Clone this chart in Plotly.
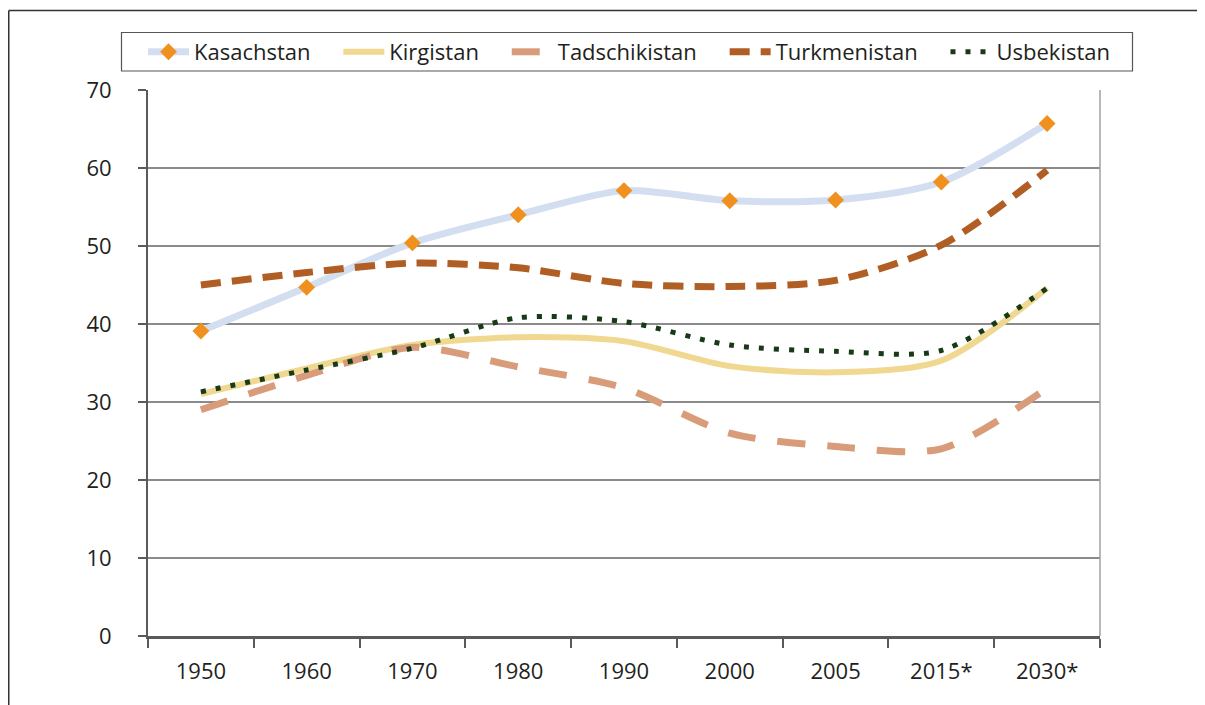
import plotly.graph_objects as go

categories = ["1950", "1960", "1970", "1980", "1990", "2000", "2005", "2015*", "2030*"]
kasachstan = [39.1, 44.7, 50.4, 54.0, 57.1, 55.8, 55.9, 58.2, 65.7]
kirgistan = [31.0, 34.3, 37.3, 38.3, 37.8, 34.6, 33.8, 35.3, 44.6]
tadschikistan = [29.0, 33.4, 37.0, 34.5, 31.8, 26.0, 24.3, 24.0, 31.8]
turkmenistan = [45.0, 46.6, 47.8, 47.2, 45.2, 44.8, 45.6, 50.1, 59.7]
usbekistan = [31.3, 34.1, 36.9, 40.8, 40.3, 37.3, 36.5, 36.6, 44.6]
y_ticks = [0, 10, 20, 30, 40, 50, 60, 70]

FONT = "Open Sans"
TXT = "#231f20"
PAD = "\u00a0" * 4  # spacing after legend entries

fig = go.Figure()
fig.add_trace(go.Scatter(
    x=categories, y=kasachstan, name="Kasachstan" + PAD, mode="lines+markers",
    line=dict(color="#d3dff0", width=7, shape="spline", smoothing=0.8),
    marker=dict(symbol="diamond", size=13, color="#f0901e"),
))
fig.add_trace(go.Scatter(
    x=categories, y=kirgistan, name="Kirgistan" + PAD, mode="lines",
    line=dict(color="#f0d890", width=6, shape="spline", smoothing=0.8),
))
fig.add_trace(go.Scatter(
    x=categories, y=tadschikistan, name="Tadschikistan" + PAD, mode="lines",
    line=dict(color="#d99c7a", width=7, shape="spline", smoothing=0.8, dash="28px,22px"),
))
fig.add_trace(go.Scatter(
    x=categories, y=turkmenistan, name="Turkmenistan" + PAD, mode="lines",
    line=dict(color="#b05e24", width=7, shape="spline", smoothing=0.8, dash="20px,11px"),
))
fig.add_trace(go.Scatter(
    x=categories, y=usbekistan, name="Usbekistan", mode="lines",
    line=dict(color="#173b17", width=5, shape="spline", smoothing=0.8, dash="5px,10px"),
))

# page coordinates of the plot area (page has an 8px body margin)
OFF = 8
FIG_W, FIG_H = 1205 - OFF, 705 - OFF
L, R, T, B = 148, 1100, 90, 636
W = R - L
H = B - T


def px(x):
    return (x - L) / W


def py(y):
    return (B - y) / H


shapes = [
    dict(type="line", xref="paper", yref="paper", x0=1, x1=1, y0=0, y1=1,
         line=dict(color="#a0a0a0", width=1.5)),
    dict(type="line", xref="paper", yref="paper", x0=px(8.75), x1=px(1210), y0=py(10.5), y1=py(10.5),
         line=dict(color="#333333", width=1.5)),
    dict(type="line", xref="paper", yref="paper", x0=px(8.75), x1=px(8.75), y0=py(10.5), y1=py(710),
         line=dict(color="#333333", width=1.5)),
    # legend frame
    dict(type="rect", xref="paper", yref="paper", x0=px(121.5), x1=px(1132.5), y0=py(32.5), y1=py(71),
         line=dict(color="#555555", width=1.2), fillcolor="rgba(0,0,0,0)", layer="above"),
]

fig.update_layout(
    width=FIG_W, height=FIG_H,
    margin=dict(l=L - OFF, r=OFF + FIG_W - R, t=T - OFF, b=OFF + FIG_H - B),
    paper_bgcolor="white", plot_bgcolor="white",
    font=dict(family=FONT, size=22, color=TXT),
    showlegend=True,
    legend=dict(
        orientation="h", x=px(143), xanchor="left", y=py(31), yanchor="top",
        borderwidth=0, bgcolor="rgba(0,0,0,0)",
        font=dict(family=FONT, size=22, color=TXT),
        itemwidth=41, tracegroupgap=0,
    ),
    shapes=shapes,
    xaxis=dict(
        type="category", categoryorder="array", categoryarray=categories,
        range=[-0.5, len(categories) - 0.5],
        showgrid=False, showline=True, linecolor="#5a5a5a", linewidth=2.5,
        ticks="outside", ticklen=9, tickcolor="#5a5a5a", tickwidth=1.5,
        tickson="boundaries", ticklabelstandoff=14,
        tickfont=dict(family=FONT, size=22, color=TXT),
        zeroline=False,
    ),
    yaxis=dict(
        range=[0, 70], tickvals=y_ticks,
        showgrid=True, gridcolor="#8a8a8a", gridwidth=1.5,
        showline=True, linecolor="#5a5a5a", linewidth=2,
        ticks="outside", ticklen=8, tickcolor="#5a5a5a", tickwidth=1.5,
        ticklabelstandoff=22,
        tickfont=dict(family=FONT, size=22, color=TXT),
        zeroline=False,
    ),
)

fig.write_html("out.html")
